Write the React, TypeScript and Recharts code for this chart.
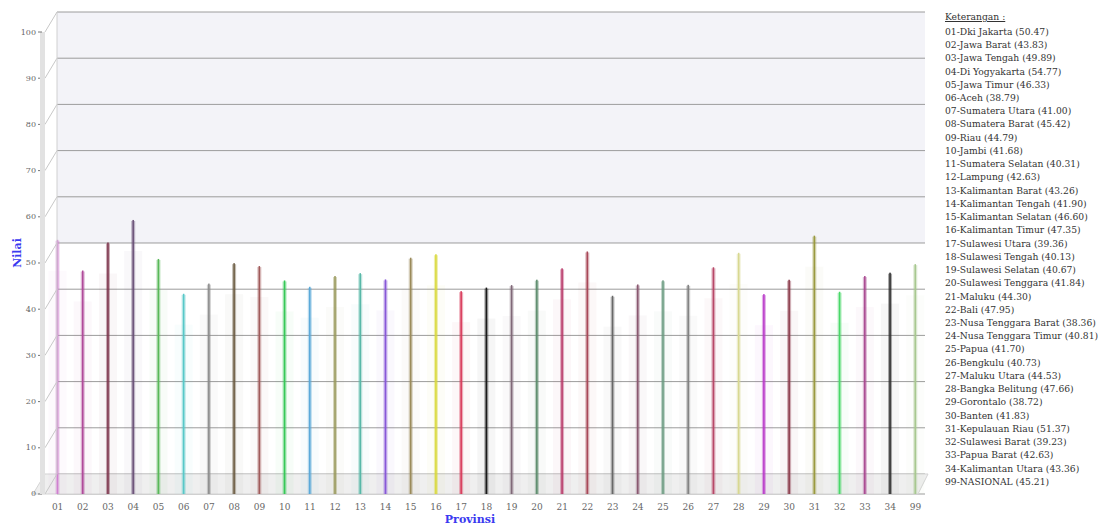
import { BarChart, Bar, XAxis, YAxis, CartesianGrid, ReferenceArea } from 'recharts'

const codes = [
  '01', '02', '03', '04', '05', '06', '07', '08', '09', '10', '11', '12',
  '13', '14', '15', '16', '17', '18', '19', '20', '21', '22', '23', '24',
  '25', '26', '27', '28', '29', '30', '31', '32', '33', '34', '99',
]

const names = [
  'Dki Jakarta', 'Jawa Barat', 'Jawa Tengah', 'Di Yogyakarta', 'Jawa Timur', 'Aceh',
  'Sumatera Utara', 'Sumatera Barat', 'Riau', 'Jambi', 'Sumatera Selatan', 'Lampung',
  'Kalimantan Barat', 'Kalimantan Tengah', 'Kalimantan Selatan', 'Kalimantan Timur',
  'Sulawesi Utara', 'Sulawesi Tengah', 'Sulawesi Selatan', 'Sulawesi Tenggara', 'Maluku',
  'Bali', 'Nusa Tenggara Barat', 'Nusa Tenggara Timur', 'Papua', 'Bengkulu', 'Maluku Utara',
  'Bangka Belitung', 'Gorontalo', 'Banten', 'Kepulauan Riau', 'Sulawesi Barat', 'Papua Barat',
  'Kalimantan Utara', 'NASIONAL',
]

const values = [
  50.47, 43.83, 49.89, 54.77, 46.33, 38.79, 41.0, 45.42, 44.79, 41.68, 40.31, 42.63,
  43.26, 41.9, 46.6, 47.35, 39.36, 40.13, 40.67, 41.84, 44.3, 47.95, 38.36, 40.81,
  41.7, 40.73, 44.53, 47.66, 38.72, 41.83, 51.37, 39.23, 42.63, 43.36, 45.21,
]

const yTicks = [0, 10, 20, 30, 40, 50, 60, 70, 80, 90, 100]

const barColors = [
  '#d080d0', '#b04a9a', '#7a3048', '#6a5078', '#58b858', '#58c8c8', '#8a8a8a', '#6a5a40',
  '#a05a5a', '#38c858', '#58a8d8', '#98985a', '#58b8a8', '#8858d8', '#9a8a5a', '#d8d838',
  '#d83858', '#1a1a1a', '#806878', '#5a8a6a', '#b83868', '#a84858', '#686868', '#8a5870',
  '#6a9a80', '#808080', '#b84868', '#d8d890', '#b838c8', '#8a3848', '#9a9a40', '#48d868',
  '#a84890', '#2a2a2a', '#a8c890',
]

const data = codes.map((code, i) => ({ code, name: names[i], value: values[i] }))

// 3d look: front of the floor sits this far below / left of the back wall
const DEPTH_X = 12
const DEPTH_Y = 20
const FLOOR = -4.33
const BLUE = '#3a3af0'
const FONT = '"DejaVu Serif", serif'

// bands between gridlines, top to bottom (upper half of the back wall is tinted)
const bandFills = [
  '#f3f3f8', '#f3f3f8', '#f3f3f8', '#f3f3f8', '#f3f3f8',
  '#ffffff', '#ffffff', '#ffffff', '#ffffff', '#ffffff', '#ffffff',
]

const BarShape = (props: any) => {
  const { x, y, width, height, index } = props
  const color = barColors[index]
  const cx = x + width / 2
  const bottom = y + height + DEPTH_Y
  return (
    <g>
      <rect x={cx - 9} y={y + 30} width={18} height={bottom - y - 30} fill={color} fillOpacity={0.04} />
      <rect x={cx - 2} y={y} width={4} height={bottom - y} fill={color} fillOpacity={0.4} />
      <rect x={cx - 0.75} y={y - 1} width={1.5} height={bottom - y + 1} fill={color} />
    </g>
  )
}

const FloorShape = (props: any) => {
  const { x, y, width, height } = props
  const pts = [
    [x, y],
    [x + width, y],
    [x + width - DEPTH_X + 2, y + height],
    [x - DEPTH_X, y + height],
  ]
  return <polygon points={pts.map((p) => p.join(',')).join(' ')} fill="#efefef" stroke="#d4d4d4" />
}

const YTick = (props: any) => {
  const { x, y, payload } = props
  const fx = x - DEPTH_X
  const fy = y + DEPTH_Y
  return (
    <g>
      {payload.value === 100 && (
        <g>
          <rect x={fx - 5} y={fy} width={5} height={462} fill="#e2e2e2" />
          <line x1={x} y1={y} x2={x} y2={y + 462} stroke="#d0d0d0" />
        </g>
      )}
      <line x1={fx} y1={fy} x2={x} y2={y} stroke="#c8c8c8" />
      <line x1={fx - 7} y1={fy} x2={fx - 3} y2={fy} stroke="#777" />
      <text x={fx - 9} y={fy} textAnchor="end" dominantBaseline="central" fontSize={8} fontFamily={FONT} fill="#666">
        {payload.value}
      </text>
    </g>
  )
}

const XTick = (props: any) => {
  const { x, y, payload } = props
  return (
    <text x={x} y={y + 13} textAnchor="middle" dominantBaseline="central" fontSize={9} fontFamily={FONT} fill="#666">
      {payload.value}
    </text>
  )
}

const YLabel = (props: any) => {
  const { viewBox } = props
  const cy = viewBox.y + viewBox.height / 2
  return (
    <text x={17} y={cy} transform={`rotate(-90, 17, ${cy})`} textAnchor="middle" dominantBaseline="central"
      fontSize={11} fontWeight="bold" fontFamily={FONT} fill={BLUE}>
      Nilai
    </text>
  )
}

const Keterangan = () => (
  <div style={{
    position: 'absolute', left: 945, top: 10, fontFamily: FONT,
    fontSize: 9.2, lineHeight: '13.24px', color: '#333', whiteSpace: 'nowrap',
  }}>
    <div style={{ textDecoration: 'underline', marginBottom: 1.6 }}>Keterangan :</div>
    {data.map((d) => (
      <div key={d.code}>{`${d.code}-${d.name} (${d.value.toFixed(2)})`}</div>
    ))}
  </div>
)

export default function App() {
  return (
    <div style={{ position: 'absolute', left: 0, top: 0, width: 1113, height: 529, background: '#fff',
      fontFamily: FONT }}>
      <BarChart width={1113} height={529} data={data} margin={{ top: 12, right: 188, bottom: 0, left: 0 }}
        barCategoryGap={0}>
        <CartesianGrid vertical={false} stroke="#9c9c9c" horizontalFill={bandFills} fillOpacity={1} />
        <ReferenceArea y1={FLOOR} y2={0} shape={<FloorShape />} />
        <XAxis dataKey="code" interval={0} padding={{ left: -12, right: -3 }} tickLine={false} axisLine={false}
          tickSize={0} tickMargin={0} height={35} tick={<XTick />}
          label={{ value: 'Provinsi', position: 'insideBottom', dx: -21, dy: -1, fill: BLUE, fontSize: 11,
            fontWeight: 'bold', fontFamily: FONT }} />
        <YAxis domain={[FLOOR, 100]} ticks={yTicks} width={57} tickSize={0} tickMargin={0} axisLine={false}
          tickLine={false} tick={<YTick />} allowDataOverflow label={<YLabel />} />
        <Bar dataKey="value" isAnimationActive={false} shape={<BarShape />} />
      </BarChart>
      <Keterangan />
    </div>
  )
}
